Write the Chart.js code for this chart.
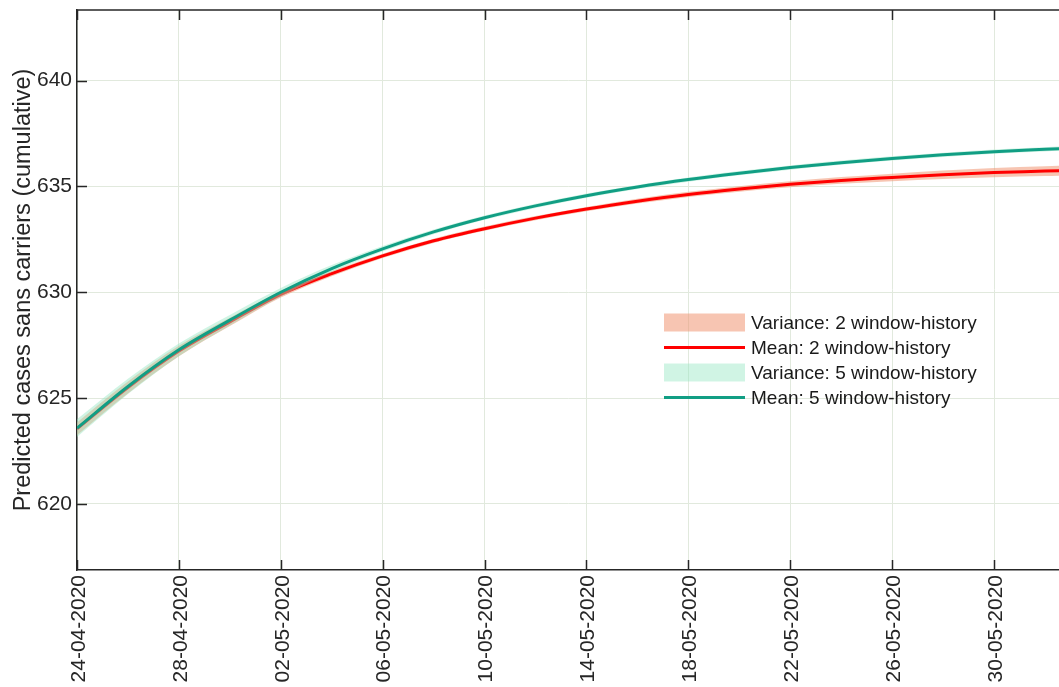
<!DOCTYPE html>
<html>
<head>
<meta charset="utf-8">
<script src="https://cdn.jsdelivr.net/npm/chart.js@4/dist/chart.umd.min.js"></script>
<style>
  html, body { margin: 0; padding: 0; background: #fff; }
  canvas { display: block; }
</style>
</head>
<body>
<canvas id="c" width="1059" height="687"></canvas>
<script>
// Days since 24-04-2020
const days = [0, 2, 4, 6, 8, 10, 12, 14, 16, 18, 20, 22, 24, 26, 28, 30, 32, 34, 36, 38, 39];

// Mean predictions
const mean2 = [623.55, 625.50, 627.22, 628.60, 629.90, 630.88, 631.72, 632.43, 633.00, 633.50,
               633.93, 634.30, 634.62, 634.88, 635.10, 635.28, 635.42, 635.55, 635.65, 635.72, 635.76];
const mean5 = [623.58, 625.55, 627.28, 628.68, 630.00, 631.12, 632.05, 632.85, 633.52, 634.08,
               634.56, 634.97, 635.32, 635.62, 635.89, 636.12, 636.32, 636.49, 636.64, 636.75, 636.80];

// Half-width of the variance band around each mean
const var2Half = [0.30, 0.28, 0.25, 0.20, 0.15, 0.12, 0.10, 0.10, 0.10, 0.10,
                  0.10, 0.11, 0.12, 0.13, 0.14, 0.16, 0.18, 0.20, 0.22, 0.23, 0.24];
const var5Half = [0.42, 0.36, 0.30, 0.25, 0.20, 0.16, 0.13, 0.11, 0.10, 0.10,
                  0.10, 0.10, 0.10, 0.10, 0.10, 0.10, 0.10, 0.10, 0.10, 0.10, 0.10];

// Axis ticks
const tickDays = [0, 4, 8, 12, 16, 20, 24, 28, 32, 36];
const tickLabels = ['24-04-2020', '28-04-2020', '02-05-2020', '06-05-2020', '10-05-2020',
                    '14-05-2020', '18-05-2020', '22-05-2020', '26-05-2020', '30-05-2020'];
const yTicks = [620, 625, 630, 635, 640];

const seriesLabels = ['Variance: 2 window-history', 'Mean: 2 window-history',
                      'Variance: 5 window-history', 'Mean: 5 window-history'];

const FONT = '"Liberation Sans", Arial, Helvetica, sans-serif';
const AXIS = '#262626';
const RED = '#ff0000';
const TEAL = '#119e84';
const SALMON = 'rgba(240,150,115,0.55)';
const MINT = 'rgba(150,230,195,0.45)';

const pts = (vals) => days.map((d, i) => ({ x: d, y: vals[i] }));
const band = (vals, half, sign) => days.map((d, i) => ({ x: d, y: vals[i] + sign * half[i] }));

const lineBase = { pointRadius: 0, cubicInterpolationMode: 'monotone' };

const datasets = [
  { ...lineBase, label: seriesLabels[0], data: band(mean2, var2Half, 1), borderWidth: 0,
    backgroundColor: SALMON, fill: '+1', order: 5 },
  { ...lineBase, label: '', data: band(mean2, var2Half, -1), borderWidth: 0, fill: false, order: 5 },
  { ...lineBase, label: seriesLabels[1], data: pts(mean2), borderColor: RED, borderWidth: 3,
    fill: false, order: 4 },
  { ...lineBase, label: seriesLabels[2], data: band(mean5, var5Half, 1), borderWidth: 0,
    backgroundColor: MINT, fill: '+1', order: 3 },
  { ...lineBase, label: '', data: band(mean5, var5Half, -1), borderWidth: 0, fill: false, order: 3 },
  { ...lineBase, label: seriesLabels[3], data: pts(mean5), borderColor: TEAL, borderWidth: 3,
    fill: false, order: 1 }
];

// Box frame with inward tick marks, plus the in-plot legend
const framePlugin = {
  id: 'frame',
  afterDraw(chart) {
    const { ctx, chartArea: a, scales: { x, y } } = chart;
    ctx.save();
    ctx.strokeStyle = AXIS;
    ctx.lineWidth = 1.5;
    ctx.beginPath();
    ctx.moveTo(a.left, a.top);
    ctx.lineTo(a.right, a.top);
    ctx.stroke();

    ctx.beginPath();
    tickDays.forEach(d => {
      const px = Math.round(x.getPixelForValue(d)) + 0.5;
      ctx.moveTo(px, a.bottom); ctx.lineTo(px, a.bottom - 10);
      ctx.moveTo(px, a.top); ctx.lineTo(px, a.top + 10);
    });
    yTicks.forEach(v => {
      const py = Math.round(y.getPixelForValue(v)) + 0.5;
      ctx.moveTo(a.left, py); ctx.lineTo(a.left + 10, py);
    });
    ctx.stroke();

    // legend
    const lx = 664, lw = 81, tx = 751;
    const rows = [322.5, 347.5, 372.5, 397.5];
    const kinds = [
      { type: 'box', color: SALMON },
      { type: 'line', color: RED },
      { type: 'box', color: MINT },
      { type: 'line', color: TEAL }
    ];
    ctx.font = '19px ' + FONT;
    ctx.textBaseline = 'middle';
    ctx.textAlign = 'left';
    kinds.forEach((k, i) => {
      const cy = rows[i];
      if (k.type === 'box') {
        ctx.fillStyle = k.color;
        ctx.fillRect(lx, cy - 9, lw, 18);
      } else {
        ctx.strokeStyle = k.color;
        ctx.lineWidth = 3;
        ctx.beginPath();
        ctx.moveTo(lx, cy); ctx.lineTo(lx + lw, cy);
        ctx.stroke();
      }
      ctx.fillStyle = '#1a1a1a';
      ctx.fillText(seriesLabels[i], tx, cy + 1);
    });
    ctx.restore();
  }
};

new Chart(document.getElementById('c'), {
  type: 'line',
  data: { datasets },
  plugins: [framePlugin],
  options: {
    responsive: false,
    animation: false,
    devicePixelRatio: 1,
    layout: { padding: { top: 10, right: 0, bottom: 0, left: 0 } },
    plugins: { legend: { display: false }, tooltip: { enabled: false } },
    scales: {
      x: {
        type: 'linear',
        min: 0,
        max: 38.55,
        afterBuildTicks: s => { s.ticks = tickDays.map(v => ({ value: v })); },
        ticks: {
          callback: (v, i) => tickLabels[i],
          minRotation: 90,
          maxRotation: 90,
          autoSkip: false,
          padding: 5,
          labelOffset: 2,
          color: AXIS,
          font: { family: FONT, size: 21 }
        },
        grid: { color: '#e1e9dd', lineWidth: 1, drawTicks: false },
        border: { display: true, color: AXIS, width: 1.5 },
        afterFit: s => { s.height = 117; s.paddingLeft = 0; s.paddingRight = 0; }
      },
      y: {
        min: 616.88,
        max: 643.33,
        afterBuildTicks: s => { s.ticks = yTicks.map(v => ({ value: v })); },
        ticks: {
          padding: 5,
          color: AXIS,
          font: { family: FONT, size: 21 }
        },
        grid: { color: '#e1e9dd', lineWidth: 1, drawTicks: false },
        border: { display: true, color: AXIS, width: 1.5 },
        title: {
          display: true,
          text: 'Predicted cases sans carriers (cumulative)',
          color: AXIS,
          font: { family: FONT, size: 23.5 },
          padding: { top: 9, bottom: 0 }
        },
        afterFit: s => { s.width = 77; s.paddingTop = 0; s.paddingBottom = 0; }
      }
    }
  }
});
</script>
</body>
</html>
